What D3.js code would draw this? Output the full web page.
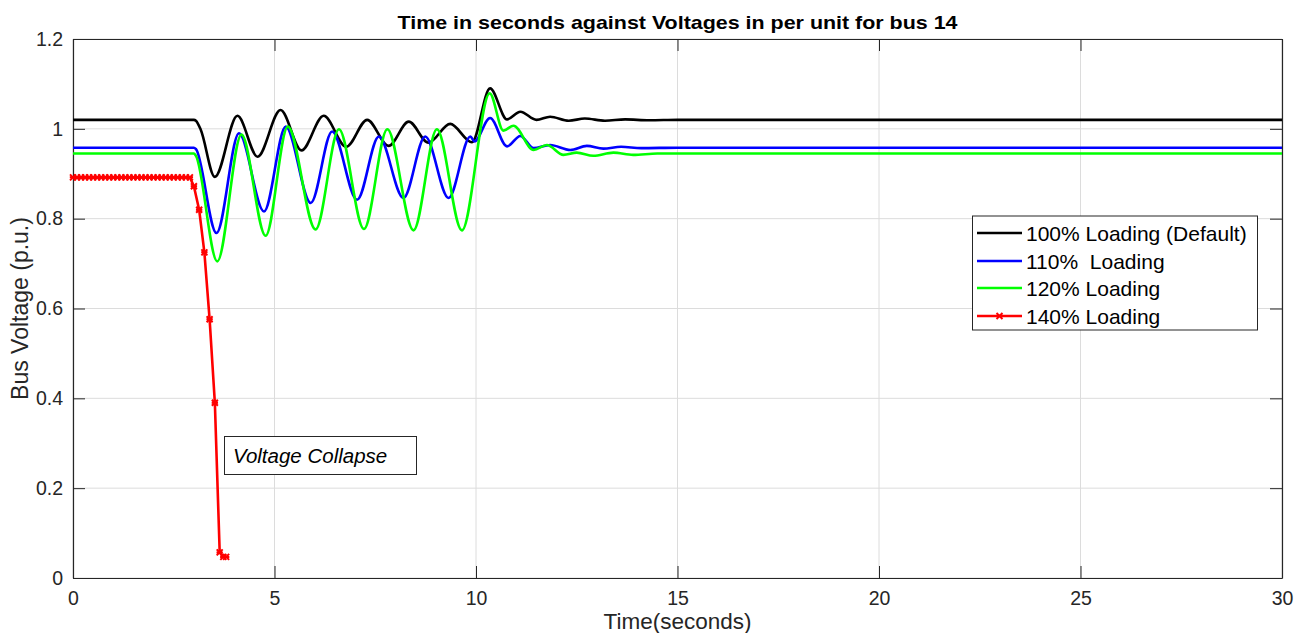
<!DOCTYPE html>
<html><head><meta charset="utf-8">
<script src="https://cdn.jsdelivr.net/npm/d3@7"></script>
<style>body{margin:0;background:#fff;} svg{display:block;font-family:"Liberation Sans",Arial,sans-serif;}</style>
</head><body>
<svg id="c" width="1305" height="633"></svg>
<script>
// ---- data ----
const xTicks = [0,5,10,15,20,25,30];
const yTicks = [0,0.2,0.4,0.6,0.8,1,1.2];
const yTickLabels = ["0","0.2","0.4","0.6","0.8","1","1.2"];
const seriesNames = ["100% Loading (Default)","110%  Loading","120% Loading","140% Loading"];

const tBlack = [0,3.0,3.05,3.17,3.52,4.08,4.58,5.15,5.67,6.22,6.78,7.3,7.83,8.33,8.82,9.36,9.9,10.35,10.77,11.1,11.5,11.84,12.3,12.7,13.2,13.7,14.3,15,30];
const vBlack = [1.02,1.02,1.018,0.998,0.893,1.029,0.938,1.042,0.952,1.029,0.960,1.020,0.962,1.016,0.969,1.011,0.970,1.090,1.021,1.038,1.020,1.027,1.018,1.023,1.018,1.021,1.019,1.02,1.02];

const tBlue = [0,3.0,3.05,3.56,4.12,4.74,5.28,5.9,6.43,7.05,7.59,8.2,8.74,9.32,9.86,9.96,10.35,10.77,11.1,11.43,11.84,12.34,12.75,13.16,13.6,14.1,15,30];
const vBlue = [0.958,0.958,0.955,0.768,0.990,0.816,1.005,0.835,0.994,0.842,0.983,0.846,0.983,0.846,0.983,0.972,1.024,0.961,0.984,0.957,0.964,0.953,0.962,0.956,0.960,0.957,0.958,0.958];

const tGreen = [0,3.0,3.05,3.58,4.18,4.78,5.33,6.02,6.6,7.22,7.8,8.45,9.03,9.65,10.34,10.68,10.93,11.43,11.76,12.17,12.5,12.91,13.41,13.9,14.5,30];
const vGreen = [0.945,0.945,0.940,0.705,0.987,0.762,1.005,0.776,0.999,0.777,0.999,0.774,0.999,0.774,1.079,0.996,1.007,0.953,0.964,0.942,0.947,0.940,0.947,0.942,0.945,0.945];

const tRed = [0,0.1,0.2,0.3,0.4,0.5,0.6,0.7,0.8,0.9,1.0,1.1,1.2,1.3,1.4,1.5,1.6,1.7,1.8,1.9,2.0,2.1,2.2,2.3,2.4,2.5,2.6,2.7,2.8,2.9,3.0,3.13,3.26,3.39,3.52,3.64,3.73,3.8];
const vRed = [0.892,0.892,0.892,0.892,0.892,0.892,0.892,0.892,0.892,0.892,0.892,0.892,0.892,0.892,0.892,0.892,0.892,0.892,0.892,0.892,0.892,0.892,0.892,0.892,0.892,0.892,0.892,0.892,0.892,0.892,0.872,0.820,0.725,0.576,0.390,0.057,0.047,0.047];

// ---- layout ----
const svg = d3.select("#c");
const L = 73, R = 1282, T = 39, B = 578;
const x = d3.scaleLinear().domain([0,30]).range([L,R]);
const y = d3.scaleLinear().domain([0,1.2]).range([B,T]);

// grid
const g = svg.append("g");
g.selectAll(".gx").data(xTicks).enter().append("line")
  .attr("x1",d=>x(d)).attr("x2",d=>x(d)).attr("y1",T).attr("y2",B)
  .attr("stroke","#dcdcdc").attr("stroke-width",1);
g.selectAll(".gy").data(yTicks).enter().append("line")
  .attr("y1",d=>y(d)).attr("y2",d=>y(d)).attr("x1",L).attr("x2",R)
  .attr("stroke","#dcdcdc").attr("stroke-width",1);

// axes with inward ticks
const tl = 12;
const axB = svg.append("g").attr("transform",`translate(0,${B})`)
  .call(d3.axisBottom(x).tickValues(xTicks).tickSizeInner(-tl).tickSizeOuter(0).tickPadding(13));
const axT = svg.append("g").attr("transform",`translate(0,${T})`)
  .call(d3.axisTop(x).tickValues(xTicks).tickSizeInner(-tl).tickSizeOuter(0).tickFormat(""));
const axL = svg.append("g").attr("transform",`translate(${L},0)`)
  .call(d3.axisLeft(y).tickValues(yTicks).tickSizeInner(-tl).tickSizeOuter(0).tickPadding(10).tickFormat((d,i)=>yTickLabels[i]));
const axR = svg.append("g").attr("transform",`translate(${R},0)`)
  .call(d3.axisRight(y).tickValues(yTicks).tickSizeInner(-tl).tickSizeOuter(0).tickFormat(""));
[axB,axT,axL,axR].forEach(a=>{
  a.select(".domain").attr("stroke","#262626").attr("stroke-width",1.2);
  a.selectAll(".tick line").attr("stroke","#262626").attr("stroke-width",1);
  a.selectAll(".tick text").attr("fill","#262626").style("font-size","19.5px").style("font-family","'Liberation Sans',Arial,sans-serif");
});

// lines
svg.append("clipPath").attr("id","clp").append("rect").attr("x",L).attr("y",T).attr("width",R-L).attr("height",B-T);
const smooth = d3.line().x(d=>x(d[0])).y(d=>y(d[1])).curve(d3.curveMonotoneX);
const straight = d3.line().x(d=>x(d[0])).y(d=>y(d[1]));
const zip = (a,b)=>a.map((t,i)=>[t,b[i]]);
const lines = [
  {d:zip(tBlack,vBlack), c:"#000000"},
  {d:zip(tBlue,vBlue), c:"#0000ff"},
  {d:zip(tGreen,vGreen), c:"#00ff00"},
];
const pl = svg.append("g").attr("clip-path","url(#clp)");
lines.forEach(s=>{
  pl.append("path").attr("d",smooth(s.d)).attr("fill","none").attr("stroke",s.c).attr("stroke-width",2.6).attr("stroke-linejoin","round");
});
const redData = zip(tRed,vRed);
pl.append("path").attr("d",straight(redData)).attr("fill","none").attr("stroke","#ff0000").attr("stroke-width",2.6).attr("stroke-linejoin","round");
const mk = "M-3,-3L3,3M-3,3L3,-3M-3.2,0L3.2,0";
svg.append("g").selectAll("path").data(redData).enter().append("path")
  .attr("transform",d=>`translate(${x(d[0])},${y(d[1])})`)
  .attr("d",mk).attr("stroke","#ff0000").attr("stroke-width",2).attr("fill","none");

// title & labels
svg.append("text").attr("x",(L+R)/2).attr("y",29).attr("text-anchor","middle")
  .style("font-weight","bold").style("font-size","19px").attr("textLength",560).attr("lengthAdjust","spacingAndGlyphs")
  .attr("fill","#000").text("Time in seconds against Voltages in per unit for bus 14");
svg.append("text").attr("x",(L+R)/2).attr("y",629).attr("text-anchor","middle")
  .style("font-size","22.5px").attr("fill","#262626").text("Time(seconds)");
svg.append("text").attr("transform",`translate(28,${(T+B)/2}) rotate(-90)`).attr("text-anchor","middle")
  .style("font-size","23px").attr("fill","#262626").text("Bus Voltage (p.u.)");

// legend
const lg = svg.append("g");
lg.append("rect").attr("x",972.5).attr("y",216).attr("width",285).attr("height",114).attr("fill","#fff").attr("stroke","#262626").attr("stroke-width",1);
const rowsY = [233,261,288,316];
const cols = ["#000000","#0000ff","#00ff00","#ff0000"];
seriesNames.forEach((n,i)=>{
  lg.append("line").attr("x1",977).attr("x2",1022).attr("y1",rowsY[i]).attr("y2",rowsY[i]).attr("stroke",cols[i]).attr("stroke-width",2.6);
  if(i===3) lg.append("path").attr("transform",`translate(999.5,${rowsY[i]})`).attr("d",mk).attr("stroke","#ff0000").attr("stroke-width",2).attr("fill","none");
  lg.append("text").attr("x",1026).attr("y",rowsY[i]+7.5).style("font-size","21px").style("white-space","pre").attr("fill","#000").text(n);
});

// annotation
svg.append("rect").attr("x",224.5).attr("y",436.5).attr("width",192).attr("height",38).attr("fill","#fff").attr("stroke","#262626").attr("stroke-width",1);
svg.append("text").attr("x",233).attr("y",463).style("font-size","20.5px").style("font-style","italic").attr("fill","#000").text("Voltage Collapse");
</script>
</body></html>
